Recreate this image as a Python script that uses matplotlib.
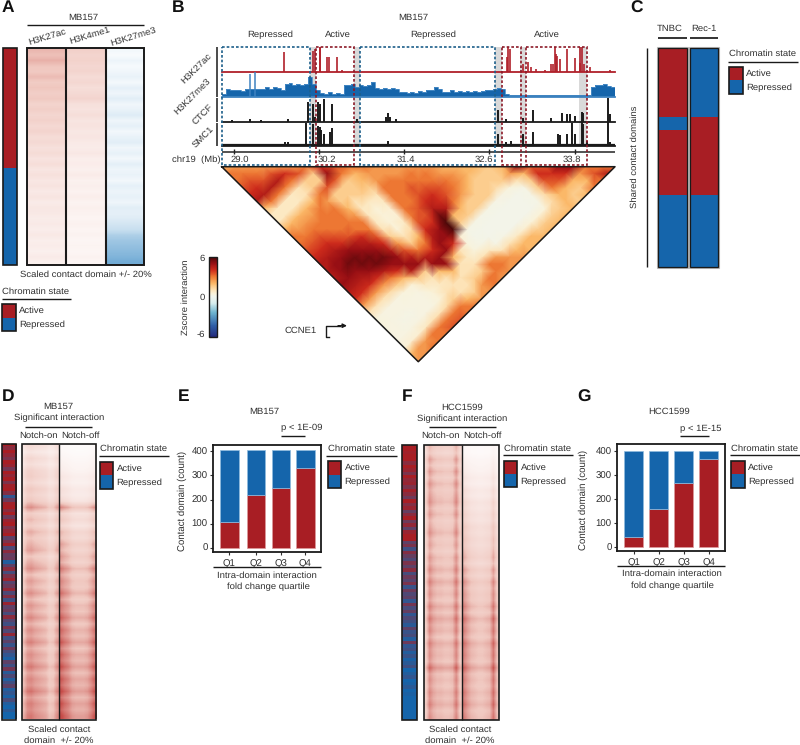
import numpy as np
import matplotlib
matplotlib.use('Agg')
import matplotlib.pyplot as plt
from matplotlib.colors import LinearSegmentedColormap, Normalize
from matplotlib.cm import ScalarMappable
from matplotlib.patches import Rectangle
from matplotlib.tri import Triangulation

plt.rcParams['font.family'] = ['Liberation Sans', 'DejaVu Sans']
plt.rcParams['font.size'] = 6.8
plt.rcParams['text.hinting'] = 'none'

RED = '#a81e24'
BLUE = '#1565ab'
BLK = '#1a1a1a'
TXT = '#303030'

# ---------- data ----------
# panel A, row intensity top to bottom
a_k27ac = [.50,.46,.52,.44,.42,.48,.40,.44,.38,.42,.34,.38,.32,.36,.30,.34,.27,.30,.24,.28,
           .22,.26,.20,.24,.19,.22,.17,.21,.16,.19,.18,.15,.17,.14,.18,.13,.15,.12,.16,.12]
a_k4me1 = [.40,.36,.38,.34,.36,.30,.34,.28,.32,.36,.26,.24,.28,.22,.24,.20,.22,.18,.16,.20,
           .14,.16,.13,.17,.12,.14,.11,.15,.10,.13,.11,.09,.12,.09,.11,.08,.10,.08,.11,.08]
a_k27me3 = [.07,.04,.10,.05,.08,.12,.06,.14,.09,.16,.08,.12,.18,.09,.14,.07,.12,.16,.08,.13,
            .07,.15,.09,.12,.07,.14,.10,.13,.09,.16,.14,.18,.24,.30,.42,.48,.52,.56,.60,.66]
a_state = [1, 0]
a_state_share = [55.3, 44.7]

# panel B tracks: peak position (Mb), relative height
k27ac_mb = [29.71,30.11,30.15,30.21,30.22,30.31,30.34,30.45,30.53,32.85,32.86,32.89,33.08,33.15,33.19,
            33.26,33.38,33.47,33.49,33.52,33.54,33.56,33.59,33.69,33.80,33.87,33.88,33.90,33.94,34.02,34.30]
k27ac_h = [.8,.85,.9,1,1,.6,.6,.6,.08,.6,1,.9,.3,.4,.2,.1,.05,.3,.3,1,.7,.65,.5,.9,.55,.35,1,1,.3,.2,.08]
k27me3_h = [.12,.3,.25,.28,.25,.22,.3,.3,.3,.3,.3,.38,.32,.4,.35,.28,.5,.55,.45,.5,.45,.5,.8,.5,.25,
            .15,.12,.18,.12,.15,.12,.45,.45,.5,.4,.45,.42,.45,.6,.35,.3,.35,.3,.35,.32,.2,.18,.15,.2,.15,
            .22,.18,.25,.25,.4,.3,.2,.18,.25,.2,.22,.18,.22,.2,.22,.18,.22,.25,.28,.3,.35,.3,.12,.05,.05,
            .05,.06,.05,.05,.06,.05,.05,.06,.05,.05,.05,.06,.05,.05,.05,.06,.05,.05,.05,.4,.45,.45,.5,.42,.4]
k27me3_peak_mb = [29.23, 29.30]
k27me3_peak_h = [.9, 1.0]
ctcf_mb = [28.97,29.23,29.39,29.77,30.05,30.12,30.14,30.19,30.21,30.27,30.38,30.73,31.15,31.17,31.20,31.29,
           32.72,32.84,33.07,33.22,33.47,33.63,33.69,33.73,33.80,33.90,33.92,34.27,34.30]
ctcf_h = [.08,.1,.07,.1,.83,.75,.2,.8,.75,.95,.75,.1,.2,.35,.2,.1,.5,.1,.15,.5,.15,.35,.3,.3,.25,.4,.35,1,.3]
smc1_mb = [29.72,29.77,30.02,30.11,30.19,30.21,30.23,30.27,30.35,30.38,30.45,30.56,31.17,32.72,32.84,32.90,
           33.07,33.22,33.57,33.59,33.69,33.76,33.80,33.90,33.92,33.97,34.27,34.30]
smc1_h = [.15,.15,.95,.9,.85,.8,.65,.5,.6,.75,.1,.1,.2,.5,.15,.2,.5,.6,.5,.45,.5,.95,.5,1,.9,.2,1,.15]
b_ticks = [29.0, 30.2, 31.4, 32.6, 33.8]

# panel B contact map: zscore, row c holds bins c..28
hic_rows = [
 [2,3,3,3.5,4,4.5,2,.8,.8,2,3,3,3.5,4,4.5,4.5,4.5,5,4.5,4,2.5,1,.4,.4,.3,.3,.5,2,2.5],
 [2.5,3,3.5,4,4.5,3,.8,.8,2,2.5,3,3.5,4,4.5,5,5,5,4.5,4,2.5,1,.3,.3,.3,.3,.6,2.5,2.5],
 [2.5,3,3.5,4.5,3,.8,.8,2,2.5,3,3.5,4,4.5,5,5.5,5,4.5,4,2.5,1,.3,.3,.2,.3,.6,2.5,3],
 [2.5,3.5,4.5,3,.8,.8,2,2.5,3,3,3.5,4,5,5.5,5.5,5,4,2.5,1.2,.3,.3,.2,.3,.8,3,3],
 [2.5,4,3,1,1,2,3,3,3,3,3.5,4.5,5,5.5,5.5,4.5,3,1.5,.4,.3,.3,.3,1,3,3],
 [2.5,3.5,1.5,1.5,3,2.5,3,3,3,3,4,4.5,5,5.5,5,4,2,.5,.3,.3,.3,1,3,3.5],
 [3,1.5,1.5,3.5,1.5,1.5,2,2.5,3,3,3.5,4,4.5,5,5,4.5,1.5,.8,.5,.5,1.2,3,3.5],
 [4,5,3.5,1.5,1.5,1,.8,.8,.8,1,1.5,2.5,3.5,4.5,5,1.5,1,.8,1,1.5,3,3],
 [3.5,3,1.5,1.5,1.5,.8,.5,.5,.5,.5,1,1.5,3,4.5,5,2,1,1,1,2,3],
 [3,2,2,1.5,1,.8,.6,.6,.8,1.2,2,3,4,5,5,2,1,1,1.5,2.5],
 [3,2.5,2.5,3,3,3,3,3,3.5,4,4.5,5,5,2,1,1,1.5,2.5,2.5],
 [2.5,2.5,3,3,3,3,3.5,3.5,4,5,5,4,1,.8,1,1.5,3,3],
 [2.5,2.5,3,3.5,3.5,4,4.5,5.5,6,6,.6,.4,.4,1,3,3,2.5],
 [2.5,3,3,3.5,4,4,4.5,2,1.5,.2,.1,.2,.8,2.5,3,2.5],
 [2.5,3,3,3.5,3.5,3,2,1.5,.2,.1,.1,.2,1,2.5,2.5],
 [2.5,2.5,3,3,2.5,1.5,1.5,.2,.1,.1,.2,1,2,2.5],
 [2,2.5,2.5,2,1.5,1.5,.2,.1,.1,.1,.8,2,2],
 [2,2,1.5,1.5,1.5,.2,.1,.1,.1,.6,2,2],
 [2,1.5,1.5,1.2,.3,.1,.1,.1,.5,1.5,2],
 [1.5,1.5,1.5,.4,.1,.1,.1,.5,1.5,2],
 [2,2.5,1,.2,.2,.2,.5,1.5,2],
 [5,2,1.5,1.5,1.2,1.2,1.5,2],
 [3.5,4,3.5,3,2,2,2],
 [3.5,4,3.5,2,1.5,1.5],
 [5,4,2,1.5,2],
 [5,2.5,2,3],
 [3,3.5,3],
 [3,4.5],
 [3],
]

# panel C, share of domains top to bottom, 1 active, 0 repressed
c_tnbc_share = [31.5, 5.8, 29.8, 32.9]
c_tnbc_state = [1, 0, 1, 0]
c_rec_share = [31.5, 35.6, 32.9]
c_rec_state = [0, 1, 0]

# panel D
d_side = [1,.8,1,.85,.7,1,.9,.65,1,.85,1,.7,.95,1,.75,.2,.6,.95,1,.8,1,.6,.9,1,.7,.85,1,.5,.7,.95,
          .4,.8,.55,.6,.1,.5,.8,.35,.7,.9,.45,.6,.85,.4,.75,.3,.9,.5,.6,.35,.8,.45,.3,.7,.4,.85,.3,.5,.25,.6,
          .35,.2,.05,.5,.3,.65,.15,.4,.1,.3,.5,.1,.2,.05,.35,.1,0,.15,0,0]
d_on = [.22,.16,.25,.2,.28,.3,.24,.33,.28,.34,.5,.3,.38,.3,.42,.34,.4,.46,.34,.42,.5,.36,.46,.4,.5,
        .38,.48,.42,.52,.4,.5,.44,.54,.42,.5,.46,.56,.44,.52,.48,.58,.46,.54,.5,.56]
d_off = [.03,.04,.06,.08,.1,.14,.12,.18,.16,.22,.46,.24,.3,.22,.34,.3,.4,.34,.42,.36,.5,.38,.46,.42,.52,
         .4,.5,.46,.56,.44,.54,.48,.58,.46,.56,.5,.6,.48,.58,.52,.62,.5,.6,.54,.62]
d_on_col = [.8,1.05,1.1,1.0,.95,.9,.85,.7,.75,1.0]
d_off_col = [1.25,1.1,1.0,.85,.8,.8,.8,.85,1.0,1.2]

# panel F
f_side = [1,1,.95,1,1,.8,1,.9,.7,1,.85,.9,.7,.95,.8,.6,1,.75,.9,.55,.8,1,.6,.85,.5,.9,1,1,.5,.7,
          .3,.75,.55,.4,.7,.5,.8,.35,.6,.45,.7,.25,.6,.4,.5,.2,.65,.35,.55,.2,.4,.3,.15,.5,.25,.35,.1,.6,.2,.3,
          .1,.25,.05,.15,.3,0,.1,.2,0,.05,.15,0,.05,0,0,0,0,0,0,0]
f_on = [.35,.3,.42,.34,.44,.36,.45,.38,.42,.46,.38,.44,.36,.4,.46,.38,.42,.36,.44,.4,.48,.4,.5,.42,.46,
        .4,.5,.42,.52,.44,.48,.4,.5,.44,.46,.42,.56,.42,.46,.42,.48,.44,.5,.42,.46]
f_off = [.05,.05,.08,.1,.12,.16,.14,.2,.18,.24,.22,.26,.24,.3,.28,.32,.3,.34,.38,.32,.42,.36,.46,.4,.44,
         .42,.5,.42,.54,.46,.5,.44,.54,.48,.5,.46,.58,.46,.5,.46,.52,.48,.54,.46,.5]
f_on_col = [.7,1.2,1.0,.9,.9,.85,.85,.9,1.25,.8]
f_off_col = [1.2,1.0,.85,.8,.75,.75,.8,.85,1.25,.8]

# panels E and G
quartiles = ['Q1', 'Q2', 'Q3', 'Q4']
e_active = [108, 218, 246, 329]
e_total = [406, 406, 406, 406]
g_active = [43, 158, 269, 368]
g_total = [402, 402, 402, 402]
count_ticks = [0, 100, 200, 300, 400]

# ---------- helpers ----------
W, H = 800, 745
fig = plt.figure(figsize=(W / 100, H / 100), dpi=100)

def ax_px(x0, y0, x1, y1, **kw):
    return fig.add_axes([x0 / W, 1 - y1 / H, (x1 - x0) / W, (y1 - y0) / H], **kw)

# page layer in pixels for text and annotation lines
pg = ax_px(0, 0, W, H)
pg.set_xlim(0, W)
pg.set_ylim(H, 0)
pg.axis('off')
pg.set_zorder(10)
pg.patch.set_alpha(0)

def txt(x, y, s, ha='center', va='center', **kw):
    kw.setdefault('color', TXT)
    pg.text(x, y, s, ha=ha, va=va, **kw)

def line(x0, x1, y0, y1=None, color=BLK, lw=1.0, **kw):
    pg.plot([x0, x1], [y0, y0 if y1 is None else y1], color=color, lw=lw, solid_capstyle='butt', **kw)

def frame(x0, y0, x1, y1, lw=1.2):
    pg.add_patch(Rectangle((x0, y0), x1 - x0, y1 - y0, fill=False, ec=BLK, lw=lw))

def legend(x, y0, y1, head_y, line_y, line_x0, line_x1):
    # chromatin state key
    mid = (y0 + y1) / 2
    txt(x, head_y, 'Chromatin state', ha='left')
    line(line_x0, line_x1, line_y)
    pg.add_patch(Rectangle((x, y0), 13.5, mid - y0, fc=RED, ec='none'))
    pg.add_patch(Rectangle((x, mid), 13.5, y1 - mid, fc=BLUE, ec='none'))
    frame(x, y0, x + 13.5, y1)
    txt(x + 17, (y0 + mid) / 2, 'Active', ha='left')
    txt(x + 17, (mid + y1) / 2 + 1, 'Repressed', ha='left')

def letter(x, y, s):
    txt(x, y, s, ha='left', fontsize=12.5, fontweight='bold', color='#111111')

white_red = LinearSegmentedColormap.from_list('wr', ['#ffffff', '#f0c8c0', '#c8504c', RED])
white_blue = LinearSegmentedColormap.from_list('wb', ['#ffffff', '#bcd8ec', '#5fa0d0', BLUE])
state_cmap = LinearSegmentedColormap.from_list('st', [BLUE, RED])
hic_cmap = LinearSegmentedColormap.from_list('hic', [
    (0.0, '#222a7c'), (0.14, '#2f5fa8'), (0.30, '#6db4cf'), (0.42, '#d8eeee'),
    (0.50, '#f1f5ee'), (0.54, '#faf2da'), (0.583, '#fde4b8'), (0.667, '#fbb868'),
    (0.75, '#ee7a34'), (0.833, '#cf2c1c'), (0.917, '#980f14'), (1.0, '#4a0808')])

def heat(x0, y0, x1, y1, values, cmap, vmax=1.0, interp='nearest'):
    ax = ax_px(x0, y0, x1, y1)
    ax.imshow(values, cmap=cmap, vmin=0, vmax=vmax, aspect='auto', interpolation=interp)
    ax.axis('off')
    return ax

def column(values):
    return np.array(values).reshape(-1, 1)

def stacked_state(x0, y0, x1, y1, shares, states):
    ax = ax_px(x0, y0, x1, y1)
    bottom = 0
    for share, state in zip(shares, states):
        ax.bar(0, share, bottom=bottom, width=1, color=RED if state else BLUE)
        bottom += share
    ax.set_xlim(-0.5, 0.5)
    ax.set_ylim(bottom, 0)
    ax.axis('off')

# ---------- panel A ----------
letter(2, 8, 'A')
stacked_state(2.5, 47.5, 16.5, 265, a_state_share, a_state)
frame(2.5, 47.5, 16.5, 265)
heat(27, 47.5, 65.5, 265, column(a_k27ac), white_red, 1.3, 'bilinear')
heat(65.5, 47.5, 105.5, 265, column(a_k4me1), white_red, 1.4, 'bilinear')
heat(105.5, 47.5, 144, 265, column(a_k27me3), white_blue, 1.1, 'bilinear')
frame(27, 47.5, 144, 265, lw=1.4)
line(65.5, 65.5, 47.5, 265, lw=1.5)
line(105.5, 105.5, 47.5, 265, lw=1.5)
txt(83, 18, 'MB157')
line(27, 144, 25)
txt(47, 36.5, 'H3K27ac', rotation=17)
txt(90, 36, 'H3K4me1', rotation=17)
txt(133, 36.5, 'H3K27me3', rotation=17)
txt(86, 275, 'Scaled contact domain +/- 20%')
legend(2, 304, 331, 291.5, 298.5, 2, 71)

# ---------- panel B ----------
letter(172, 8, 'B')
TX0, TX1 = 221.7, 615
MB0, MB1 = 28.83, 34.37
txt(413, 18, 'MB157')
for xc, s in zip([270, 337.7, 432.7, 546.7], ['Repressed', 'Active', 'Repressed', 'Active']):
    txt(xc, 35, s)

def track(y0, y1, mb, h, color, lw=1.0):
    ax = ax_px(TX0, y0, TX1, y1)
    ax.vlines(mb, 0, h, color=color, lw=lw)
    ax.axhline(0, color=color, lw=1.3, clip_on=False)
    ax.set_xlim(MB0, MB1)
    ax.set_ylim(0, 1)
    ax.axis('off')
    ax.patch.set_alpha(0)
    return ax

# grey boundary bands go under the tracks
band_ax = ax_px(TX0, 47, TX1, 146)
band_ax.set_xlim(TX0, TX1)
band_ax.set_ylim(0, 1)
band_ax.axis('off')
for b0, b1 in [(310.3, 315.7), (354, 360), (495, 501.7), (520, 526), (579, 587)]:
    band_ax.axvspan(b0, b1, color='#d9d9d9', lw=0)

track(47, 71.5, k27ac_mb, k27ac_h, '#b0202a', 1.2)
me3_ax = track(72, 96.5, k27me3_peak_mb, k27me3_peak_h, '#3f83c0', 1.1)
me3_x = np.linspace(MB0, MB1, len(k27me3_h) + 1)
me3_ax.stairs(k27me3_h, me3_x, fill=True, color=BLUE, lw=0)
me3_ax.stairs(k27me3_h, me3_x, color='#4a8cc6', lw=0.6)
track(97.5, 121.5, ctcf_mb, ctcf_h, BLK, 1.4)
sm_ax = track(122, 146, smc1_mb, smc1_h, BLK, 1.4)
sm_ax.axhline(0.03, color=BLK, lw=1.6)

for y0, y1 in [(47, 71.5), (72, 97), (98, 122), (123, 146)]:
    line(216.7, 216.7, y0, y1, lw=1.1)
txt(196.7, 68, 'H3K27ac', rotation=45)
txt(192.7, 96.5, 'H3K27me3', rotation=45)
txt(203, 114, 'CTCF', rotation=45)
txt(203, 137, 'SMC1', rotation=45)

# genome ruler
ruler = ax_px(TX0, 147, TX1, 156)
ruler.set_xlim(MB0, MB1)
ruler.set_ylim(0, 1)
ruler.axis('off')
ruler.axhline(0.5, color='#444444', lw=1.3)
ruler.vlines(b_ticks, 0.2, 0.8, color='#222222', lw=1.0)
txt(172, 160, 'chr19  (Mb)', ha='left')
for xc, v in zip([240, 326.7, 406, 484, 571.6], b_ticks):
    txt(xc, 160, '%.1f' % v)

# dashed domain boxes
DBLUE, DRED = '#1d5f8a', '#8c1a28'
for x0, x1, col in [(221.7, 310.3, DBLUE), (315.7, 354, DRED), (360, 495, DBLUE),
                    (501.7, 520.7, DRED), (526, 587.3, DRED)]:
    pg.add_patch(Rectangle((x0, 46.7), x1 - x0, 118.3, fill=False, ec=col, lw=1.2,
                           ls=(0, (1.6, 1.2))))

# contact map
n_bin = len(hic_rows) - 1
tri_x, tri_y, tri_z = [], [], []
for c, row in enumerate(hic_rows):
    for k, z in enumerate(row):
        tri_x.append(c + k / 2)
        tri_y.append(k / 2)
        tri_z.append(z)
hic_ax = ax_px(TX0, 166.7, TX1, 361.7)
hic_ax.tripcolor(Triangulation(tri_x, tri_y), tri_z, cmap=hic_cmap, vmin=-6, vmax=6, shading='gouraud')
hic_ax.set_xlim(0, n_bin)
hic_ax.set_ylim(n_bin / 2, 0)
hic_ax.axis('off')
pg.plot([TX0, 418.3, TX1, TX0], [166.7, 361.7, 166.7, 166.7], color=BLK, lw=1.1)

# colour scale
cax = ax_px(209, 256.7, 217, 336.7)
cb = fig.colorbar(ScalarMappable(Normalize(-6, 6), hic_cmap), cax=cax)
cb.set_ticks([])
cb.outline.set_linewidth(1.0)
cb.outline.set_edgecolor(BLK)
txt(205, 259, '6', ha='right')
txt(205, 298, '0', ha='right')
txt(205, 335, '-6', ha='right')
txt(185.7, 297, 'Zscore interaction', rotation=90)

txt(317, 330.7, 'CCNE1', ha='right')
pg.plot([329, 326, 326, 340], [336.7, 336.7, 325.7, 325.7], color=BLK, lw=1.0)
pg.annotate('', xy=(347, 325.7), xytext=(338, 325.7),
            arrowprops=dict(arrowstyle='-|>', color=BLK, lw=1.0, mutation_scale=6, shrinkA=0, shrinkB=0))

# ---------- panel C ----------
letter(630, 8, 'C')
stacked_state(657.7, 48.3, 686.7, 267.3, c_tnbc_share, c_tnbc_state)
stacked_state(689.5, 48.3, 718.3, 267.3, c_rec_share, c_rec_state)
for x0, x1 in [(657.7, 686.7), (689.5, 718.3)]:
    pg.add_patch(Rectangle((x0 - 1, 47.3), x1 - x0 + 2, 221, fill=False, ec='#b8b8b8', lw=0.8))
    frame(x0, 48.3, x1, 267.3, lw=0.9)
txt(670, 29, 'TNBC')
txt(704, 29, 'Rec-1')
line(657.5, 686.5, 37.7, color='#333333', lw=1.4)
line(689.5, 718, 37.7, color='#333333', lw=1.4)
line(646.7, 646.7, 48, 267.3)
txt(635, 157, 'Shared contact domains', rotation=90)
legend(729, 66.5, 93.5, 54, 61.5, 728, 798)

# ---------- panels D and F ----------
def interaction_panel(x_side, x_side1, x0, xm, x1, y0, y1, side, on, off, on_col, off_col):
    heat(x_side, y0, x_side1, y1, column(side), state_cmap)
    frame(x_side, y0, x_side1, y1)
    heat(x0, y0, xm, y1, np.outer(on, on_col), white_red, 1.1, 'bilinear')
    heat(xm, y0, x1, y1, np.outer(off, off_col), white_red, 1.1, 'bilinear')
    frame(x0, y0, x1, y1)
    line(xm, xm, y0, y1, lw=1.0)

letter(2, 397, 'D')
interaction_panel(1.5, 15.7, 22, 58.7, 96, 444, 719.5, d_side, d_on, d_off, d_on_col, d_off_col)
txt(58.7, 407, 'MB157')
txt(59, 418, 'Significant interaction')
line(25, 92, 426.7)
txt(38.3, 436, 'Notch-on')
txt(80, 436, 'Notch-off')
legend(99.5, 461.7, 488.7, 448.7, 456, 99, 169)
txt(59, 730, 'Scaled contact')
txt(59, 741, 'domain  +/- 20%')

letter(402, 397, 'F')
interaction_panel(401.7, 416.7, 424.3, 461.7, 498.7, 444.7, 720, f_side, f_on, f_off, f_on_col, f_off_col)
txt(461.7, 408, 'HCC1599')
txt(461.7, 419.3, 'Significant interaction')
line(429, 496, 427.3)
txt(440.7, 436, 'Notch-on')
txt(482, 436, 'Notch-off')
legend(503.5, 460.7, 487, 448.7, 455, 503, 572.7)
txt(460, 730, 'Scaled contact')
txt(460, 741, 'domain  +/- 20%')

# ---------- panels E and G ----------
def count_bars(x0, x1, y0, y1, y_zero, y_400, bar_left, bar_w, active, total):
    ax = ax_px(x0, y0, x1, y1)
    per_count = (y_zero - y_400) / 400.0
    ax.set_xlim(x0, x1)
    ax.set_ylim((y_zero - y1) / per_count, (y_zero - y0) / per_count)
    centers = [b + bar_w / 2 for b in bar_left]
    rep = [t - a for t, a in zip(total, active)]
    ax.bar(centers, active, width=bar_w, color=RED, edgecolor='#dc9a9c', lw=0.5)
    ax.bar(centers, rep, bottom=active, width=bar_w, color=BLUE, edgecolor='#8fbcdf', lw=0.5)
    ax.set_xticks(centers)
    ax.set_xticklabels(quartiles)
    ax.set_yticks(count_ticks)
    ax.tick_params(length=2.5, width=0.8, pad=1.5, labelsize=6.9, colors=TXT)
    ax.tick_params(axis='x', pad=2.5)
    for sp in ax.spines.values():
        sp.set_linewidth(1.3)
        sp.set_color(BLK)
    return ax

letter(178, 397, 'E')
count_bars(213.3, 321, 444.7, 551.7, 547.7, 451.3, [220, 246.7, 271.7, 296], 18.7, e_active, e_total)
txt(264.7, 411.7, 'MB157')
txt(301.7, 428, 'p < 1E-09')
line(281, 305, 435.7)
line(213, 321, 567)
txt(266.7, 575.7, 'Intra-domain interaction')
txt(268, 587, 'fold change quartile')
txt(182, 501, 'Contact domain (count)', rotation=90, fontsize=6.9)
legend(327.5, 461.3, 487.7, 448.7, 456, 326, 397)

letter(577, 397, 'G')
count_bars(617.3, 725, 444.3, 551.3, 547.3, 451.3, [624, 649, 674, 699], 19.4, g_active, g_total)
txt(668.7, 411.7, 'HCC1599')
txt(700.7, 429, 'p < 1E-15')
line(680, 709, 436.3)
line(617, 725, 566)
txt(672, 574, 'Intra-domain interaction')
txt(672, 585.7, 'fold change quartile')
txt(583.7, 500, 'Contact domain (count)', rotation=90, fontsize=6.9)
legend(731, 461, 487.5, 448.7, 455, 730, 800)

fig.savefig('out.png', dpi=100)
